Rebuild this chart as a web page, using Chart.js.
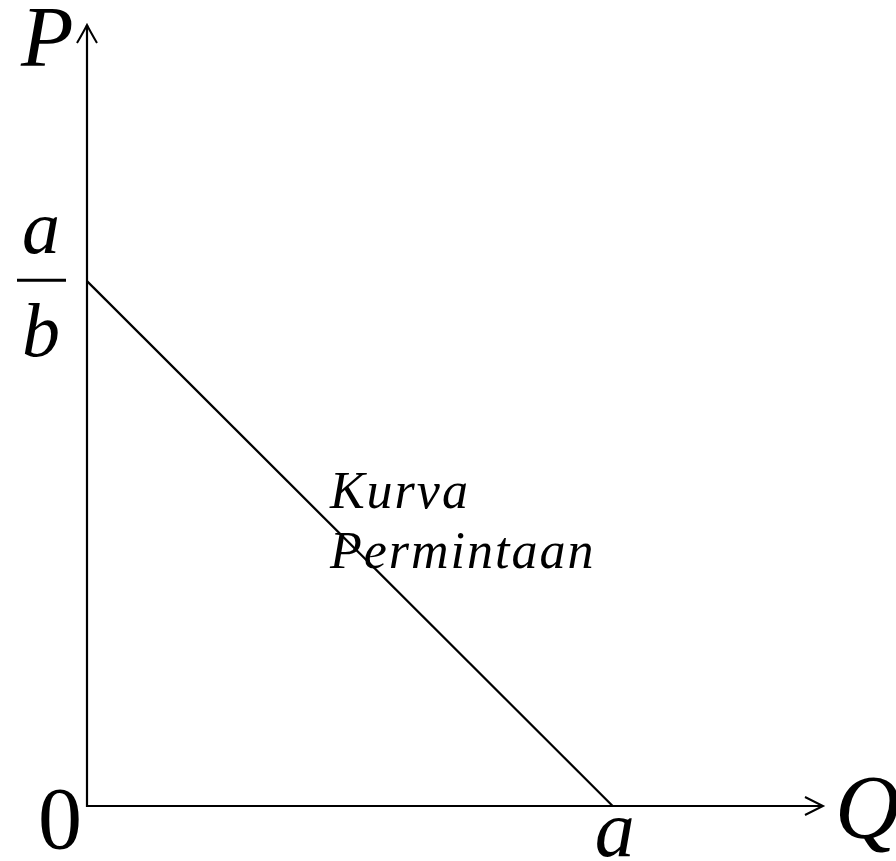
<!DOCTYPE html>
<html>
<head>
<meta charset="utf-8">
<script src="https://cdn.jsdelivr.net/npm/chart.js@4/dist/chart.umd.min.js"></script>
<style>
  html, body { margin: 0; padding: 0; background: #fff; }
  #demand-chart { display: block; }
</style>
</head>
<body>
<canvas id="demand-chart" width="896" height="861"></canvas>
<script>
// demand curve P = a/b - Q/b, drawn in units where both intercepts are 1
const quantityValues = [0, 1];
const priceValues = [1, 0];
const curveLabel = ['Kurva', 'Permintaan'];
const axisNames = { x: 'Q', y: 'P' };
const interceptLabels = { origin: '0', quantity: 'a', priceTop: 'a', priceBottom: 'b' };

const xMax = 1.4;
const yMax = 1.488;

const points = quantityValues.map((q, i) => ({ x: q, y: priceValues[i] }));

// draws axes with arrows and all the text labels
const diagramPlugin = {
    id: 'diagram',
    afterDatasetsDraw(chart) {
        const ctx = chart.ctx;
        const xs = chart.scales.x;
        const ys = chart.scales.y;
        const x0 = xs.getPixelForValue(0);
        const y0 = ys.getPixelForValue(0);
        const xEnd = xs.getPixelForValue(xMax);
        const yEnd = ys.getPixelForValue(yMax);

        ctx.save();
        ctx.strokeStyle = '#000';
        ctx.fillStyle = '#000';
        ctx.lineWidth = 2.2;
        ctx.lineCap = 'butt';

        // axes
        ctx.beginPath();
        ctx.moveTo(x0, y0 + 1);
        ctx.lineTo(x0, yEnd);
        ctx.moveTo(x0 - 1, y0);
        ctx.lineTo(xEnd, y0);
        ctx.stroke();

        // arrow heads
        ctx.lineWidth = 2;
        ctx.beginPath();
        ctx.moveTo(x0 - 10, yEnd + 18);
        ctx.quadraticCurveTo(x0 - 3, yEnd + 6, x0, yEnd);
        ctx.quadraticCurveTo(x0 + 3, yEnd + 6, x0 + 10, yEnd + 18);
        ctx.moveTo(xEnd - 18, y0 - 9);
        ctx.quadraticCurveTo(xEnd - 6, y0 - 3, xEnd, y0);
        ctx.quadraticCurveTo(xEnd - 6, y0 + 3, xEnd - 18, y0 + 9);
        ctx.stroke();

        ctx.textBaseline = 'alphabetic';

        // axis names
        ctx.font = 'italic 86px "Liberation Serif"';
        ctx.textAlign = 'left';
        ctx.fillText(axisNames.y, x0 - 66, yEnd + 41);
        ctx.font = 'italic 90px "Liberation Serif"';
        ctx.fillText(axisNames.x, xEnd + 12, y0 + 32);

        // origin
        ctx.font = '88px "Liberation Serif"';
        ctx.textAlign = 'right';
        ctx.fillText(interceptLabels.origin, x0 - 5, y0 + 42);

        // quantity intercept a
        const qa = xs.getPixelForValue(quantityValues[1]);
        ctx.font = 'italic 80px "Liberation Serif"';
        ctx.textAlign = 'center';
        ctx.fillText(interceptLabels.quantity, qa + 2, y0 + 50);

        // price intercept a/b
        const pb = ys.getPixelForValue(priceValues[0]);
        const fracX = x0 - 46;
        ctx.font = 'italic 76px "Liberation Serif"';
        ctx.fillText(interceptLabels.priceTop, fracX, pb - 28);
        ctx.fillText(interceptLabels.priceBottom, fracX, pb + 75);
        ctx.lineWidth = 3;
        ctx.beginPath();
        ctx.moveTo(x0 - 70, pb - 1);
        ctx.lineTo(x0 - 21, pb - 1);
        ctx.stroke();

        // curve label
        ctx.font = 'italic 52px "Liberation Serif"';
        ctx.letterSpacing = '2px';
        ctx.textAlign = 'left';
        const lx = xs.getPixelForValue(0.462);
        ctx.fillText(curveLabel[0], lx, ys.getPixelForValue(0.567));
        ctx.fillText(curveLabel[1], lx, ys.getPixelForValue(0.453));

        ctx.restore();
    }
};

const ctx = document.getElementById('demand-chart').getContext('2d');
const myChart = new Chart(ctx, {
    type: 'scatter',
    data: {
        datasets: [{
            label: 'Kurva Permintaan',
            data: points,
            showLine: true,
            borderColor: '#000',
            borderWidth: 2.2,
            pointRadius: 0,
            fill: false,
        }],
    },
    options: {
        responsive: false,
        animation: false,
        layout: {
            padding: { left: 87, right: 73, top: 25, bottom: 55 },
        },
        plugins: {
            legend: { display: false },
            tooltip: { enabled: false },
        },
        scales: {
            x: { type: 'linear', min: 0, max: xMax, display: false },
            y: { type: 'linear', min: 0, max: yMax, display: false },
        },
    },
    plugins: [diagramPlugin],
});
</script>
</body>
</html>
